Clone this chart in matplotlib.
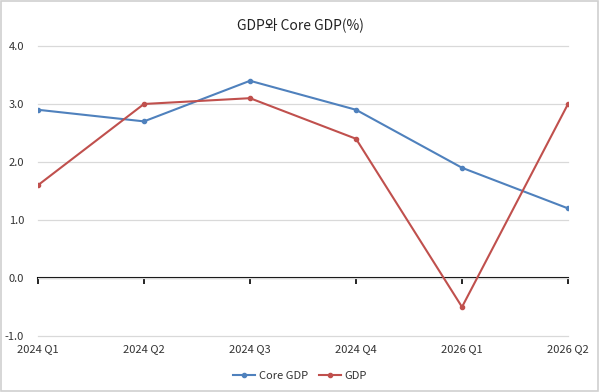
import matplotlib
matplotlib.use("Agg")
import matplotlib.pyplot as plt
from matplotlib.patches import Rectangle

plt.rcParams['font.family'] = ['Noto Sans CJK KR', 'DejaVu Sans']

categories = ["2024 Q1", "2024 Q2", "2024 Q3", "2024 Q4", "2026 Q1", "2026 Q2"]
core_gdp = [2.9, 2.7, 3.4, 2.9, 1.9, 1.2]
gdp = [1.6, 3.0, 3.1, 2.4, -0.5, 3.0]
yticks = [-1.0, 0.0, 1.0, 2.0, 3.0, 4.0]
title = "GDP와 Core GDP(%)"

fig = plt.figure(figsize=(6.0, 3.92), dpi=100)
ax = fig.add_axes([0.0633, 0.1429, 0.8834, 0.7398])

x = list(range(len(categories)))
ax.plot(x, core_gdp, color="#4f81bd", lw=1.5, marker="o", ms=3, label="Core GDP", zorder=3)
ax.plot(x, gdp, color="#c0504d", lw=1.5, marker="o", ms=3, label="GDP", zorder=3)

ax.set_ylim(-1.0, 4.0)
ax.set_xlim(0, len(categories) - 1)
ax.set_yticks(yticks)
ax.set_yticklabels([f"{v:.1f}" for v in yticks], fontsize=8, color="#333333")
ax.tick_params(axis="y", length=0, pad=10)
ax.grid(axis="y", color="#d9d9d9", lw=0.9)
for gl in ax.get_ygridlines():
    gl.set_clip_on(False)
ax.set_axisbelow(True)
for s in ax.spines.values():
    s.set_visible(False)

ax.set_xticks(x)
ax.set_xticklabels(categories, fontsize=8, color="#333333")
ax.tick_params(axis="x", length=0, pad=6)

# zero axis with category ticks
sec = ax.secondary_xaxis(0.2)
sec.set_xticks(x)
sec.set_xticklabels([])
sec.tick_params(axis="x", direction="out", length=4, width=1.2, color="black")
sec.spines["bottom"].set_color("black")
sec.spines["bottom"].set_linewidth(1.5)

fig.suptitle(title, y=0.955, fontsize=10, color="#222222")

leg = fig.legend(loc="center", bbox_to_anchor=(0.5, 0.04), ncol=2, frameon=False,
                 fontsize=8, handlelength=2.0, columnspacing=1.0, handletextpad=0.3)
for t in leg.get_texts():
    t.set_color("#333333")

fig.patches.append(Rectangle((0.002, 0.003), 0.995, 0.994, transform=fig.transFigure,
                             fill=False, edgecolor="#d0d0d0", lw=1.2))

fig.savefig("out.png", dpi=100, facecolor="white")
